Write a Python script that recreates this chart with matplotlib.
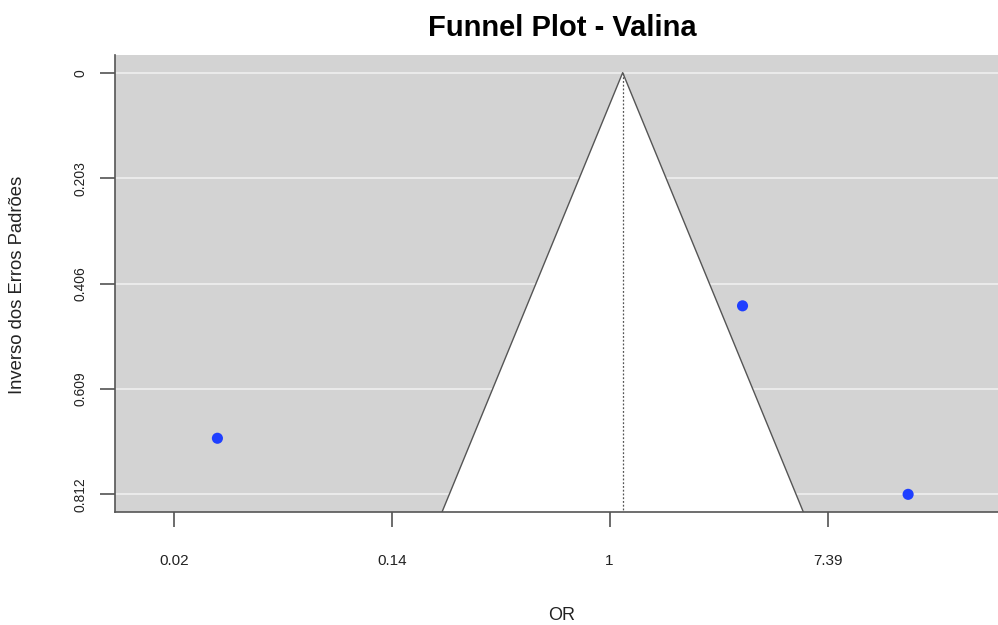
import numpy as np
import matplotlib
matplotlib.use("Agg")
import matplotlib.pyplot as plt
from matplotlib.patches import Polygon

plt.rcParams['font.family'] = ['Liberation Sans', 'DejaVu Sans']

# Data (log odds ratio and standard error)
log_or = [-3.60, 1.22, 2.74]
se = [0.704, 0.449, 0.812]
estimate = 0.12
xtick_pos = [-4, -2, 0, 2]
xtick_labels = ["0.02", "0.14", "1", "7.39"]
ytick_vals = [0, 0.203, 0.406, 0.609, 0.812]
ytick_labels = ["0", "0.203", "0.406", "0.609", "0.812"]

W, H = 998, 625
fig = plt.figure(figsize=(W/100, H/100), dpi=100)
ax = fig.add_axes([115/W, (H-512)/H, (998-115)/W, (512-55)/H])

ymax = 0.846
ax.set_xlim(-4.54, 3.565)
ax.set_ylim(ymax, -0.034)
ax.set_facecolor('#D3D3D3')

for v in ytick_vals:
    ax.axhline(v, color='#EDEDED', lw=1.3, zorder=1)

hw = 1.96 * ymax
poly = Polygon([[estimate, 0], [estimate - hw, ymax], [estimate + hw, ymax]],
               closed=True, facecolor='white', edgecolor='none', zorder=2)
ax.add_patch(poly)
ax.plot([estimate - hw, estimate, estimate + hw], [ymax, 0, ymax],
        color='#555555', lw=1.0, zorder=3)
ax.plot([estimate, estimate], [0, ymax], color='#555555', lw=0.9,
        linestyle=(0, (1.5, 1.5)), zorder=3)

ax.scatter(log_or, se, s=64, color='#1F3FFF', edgecolors='none', zorder=5)

for s in ['top', 'right']:
    ax.spines[s].set_visible(False)
for s in ['left', 'bottom']:
    ax.spines[s].set_color('#555555')
    ax.spines[s].set_linewidth(1.2)

ax.set_xticks(xtick_pos)
ax.set_xticklabels(xtick_labels, fontsize=11, color='#222222')
ax.set_yticks(ytick_vals)
ax.set_yticklabels(ytick_labels, fontsize=10, rotation=90, va='center', color='#222222')
ax.tick_params(axis='x', length=10.8, width=1.1, color='#444444', pad=19.5)
ax.tick_params(axis='y', length=10.8, width=1.1, color='#444444', pad=9)

fig.text(562/W, 1 - 615/H, "OR", fontsize=13, ha='center', va='center', color='#222222')
fig.text(18/W, 1 - 285/H, "Inverso dos Erros Padrões", fontsize=13.3,
         rotation=90, ha='center', va='center', color='#222222')
fig.text(562/W, 1 - 28/H, "Funnel Plot - Valina", fontsize=21, fontweight='bold',
         ha='center', va='center')

fig.savefig("out.png", dpi=100)
